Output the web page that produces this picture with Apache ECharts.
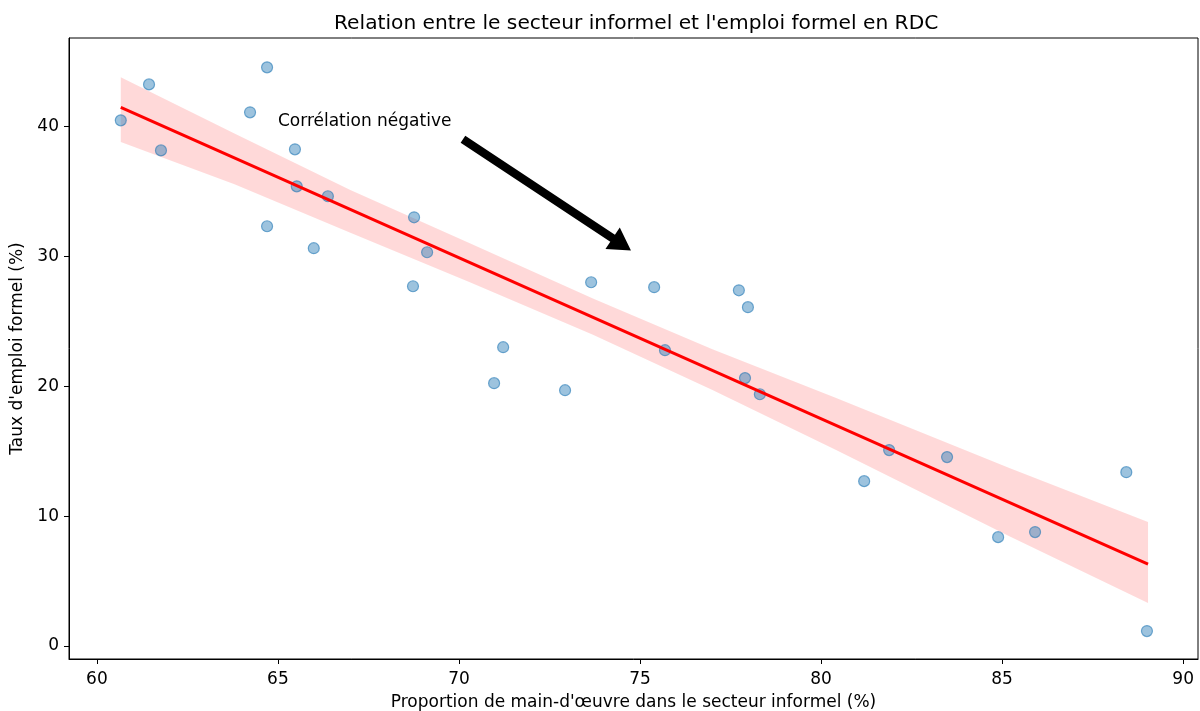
<!DOCTYPE html>
<html>
<head>
<meta charset="utf-8">
<script src="https://cdn.jsdelivr.net/npm/echarts@6/dist/echarts.min.js"></script>
<style>html,body{margin:0;padding:0;background:#fff}#c{width:1200px;height:711px}</style>
</head>
<body>
<div id="c"></div>
<script>
// Scatter data
const informalShare = [60.66, 61.44, 61.77, 64.23, 64.70, 64.70, 65.47, 65.52, 65.99, 66.38,
  68.76, 68.73, 69.12, 70.97, 71.22, 72.93, 73.65, 75.39, 75.69, 77.73,
  77.98, 77.90, 78.31, 81.19, 81.88, 83.48, 84.89, 85.91, 88.43, 89.00];
const formalRate = [40.46, 43.23, 38.15, 41.08, 44.54, 32.31, 38.23, 35.38, 30.62, 34.62,
  33.00, 27.69, 30.31, 20.23, 23.00, 19.69, 28.00, 27.62, 22.77, 27.38,
  26.08, 20.62, 19.38, 12.69, 15.08, 14.54, 8.38, 8.77, 13.38, 1.15];

// Regression line end points
const fitX = [60.66, 89.03];
const fitY = [41.46, 6.31];

// Confidence band
const bandX = [60.66, 63.8, 67.0, 70.3, 73.7, 77.0, 80.4, 85.2, 89.03];
const bandUpper = [43.77, 39.45, 35.1, 31.0, 26.75, 22.85, 19.1, 13.7, 9.54];
const bandLower = [38.79, 35.55, 31.8, 28.0, 23.95, 19.7, 15.1, 8.45, 3.31];

// Annotation
const annotText = 'Corrélation négative';
const annotTextPos = [65, 40];
const arrowFrom = [70.11, 39.0];
const arrowTo = [74.75, 30.45];

// Axis ticks
const xTicks = [60, 65, 70, 75, 80, 85, 90];
const yTicks = [0, 10, 20, 30, 40];

const FONT = 'DejaVu Sans';
const chart = echarts.init(document.getElementById('c'), null, {renderer: 'canvas'});

const scatterData = informalShare.map((x, i) => [x, formalRate[i]]);
const fitData = fitX.map((x, i) => [x, fitY[i]]);

chart.setOption({
  animation: false,
  backgroundColor: '#ffffff',
  title: {
    text: 'Relation entre le secteur informel et l\'emploi formel en RDC',
    left: 329, top: 9,
    textStyle: {fontFamily: FONT, fontSize: 20.2, fontWeight: 'normal', color: '#000'}
  },
  grid: {left: 69, right: 2, top: 38, bottom: 52, containLabel: false, outerBoundsMode: 'none',
    show: true, borderColor: '#000', borderWidth: 1, backgroundColor: '#fff'},
  xAxis: {
    type: 'value', min: 59.23, max: 90.41,
    name: 'Proportion de main-d\'œuvre dans le secteur informel (%)',
    nameLocation: 'middle', nameGap: 35,
    nameTextStyle: {fontFamily: FONT, fontSize: 17, color: '#000'},
    axisLine: {show: true, onZero: false, lineStyle: {color: '#000', width: 1}},
    axisTick: {show: true, length: 5, lineStyle: {color: '#000'}, customValues: xTicks},
    axisLabel: {fontFamily: FONT, fontSize: 17, color: '#000', margin: 12, customValues: xTicks},
    splitLine: {show: false}
  },
  yAxis: {
    type: 'value', min: -1.0, max: 46.8,
    name: 'Taux d\'emploi formel (%)',
    nameLocation: 'middle', nameGap: 40,
    nameTextStyle: {fontFamily: FONT, fontSize: 17, color: '#000'},
    axisLine: {show: true, onZero: false, lineStyle: {color: '#000', width: 1}},
    axisTick: {show: true, length: 5, lineStyle: {color: '#000'}, customValues: yTicks},
    axisLabel: {fontFamily: FONT, fontSize: 17, color: '#000', margin: 10, customValues: yTicks},
    splitLine: {show: false}
  },
  series: [
    {
      type: 'scatter', data: scatterData, symbolSize: 11,
      itemStyle: {color: 'rgba(31,119,180,0.55)', borderColor: 'rgba(31,119,180,0.75)', borderWidth: 1.2}
    },
    {
      type: 'custom', data: [[bandX[0], bandUpper[0]]], clip: true, silent: true,
      renderItem: function (params, api) {
        const pts = [];
        for (let i = 0; i < bandX.length; i++) pts.push(api.coord([bandX[i], bandUpper[i]]));
        for (let i = bandX.length - 1; i >= 0; i--) pts.push(api.coord([bandX[i], bandLower[i]]));
        return {type: 'polygon', shape: {points: pts}, style: {fill: 'rgba(255,0,0,0.15)'}};
      }
    },
    {
      type: 'line', data: fitData, symbol: 'none',
      lineStyle: {color: '#ff0000', width: 3}
    },
    {
      type: 'custom', data: [[arrowFrom[0], arrowFrom[1]]], silent: true,
      renderItem: function (params, api) {
        const s = api.coord(arrowFrom), e = api.coord(arrowTo);
        const dx = e[0] - s[0], dy = e[1] - s[1];
        const L = Math.sqrt(dx * dx + dy * dy);
        const ux = dx / L, uy = dy / L, nx = -uy, ny = ux;
        const headLen = 22, headHalf = 13, shaftHalf = 4.2;
        const bx = e[0] - ux * headLen, by = e[1] - uy * headLen;
        const pts = [
          [s[0] + nx * shaftHalf, s[1] + ny * shaftHalf],
          [bx + nx * shaftHalf, by + ny * shaftHalf],
          [bx + nx * headHalf, by + ny * headHalf],
          [e[0], e[1]],
          [bx - nx * headHalf, by - ny * headHalf],
          [bx - nx * shaftHalf, by - ny * shaftHalf],
          [s[0] - nx * shaftHalf, s[1] - ny * shaftHalf]
        ];
        return {type: 'polygon', shape: {points: pts}, style: {fill: '#000'}};
      }
    },
    {
      type: 'custom', data: [[annotTextPos[0], annotTextPos[1]]], silent: true,
      renderItem: function (params, api) {
        const p = api.coord(annotTextPos);
        return {
          type: 'text', x: p[0], y: p[1] - 5,
          style: {text: annotText, fontFamily: FONT, fontSize: 17, fill: '#000', align: 'left', verticalAlign: 'middle'}
        };
      }
    }
  ]
});
</script>
</body>
</html>
